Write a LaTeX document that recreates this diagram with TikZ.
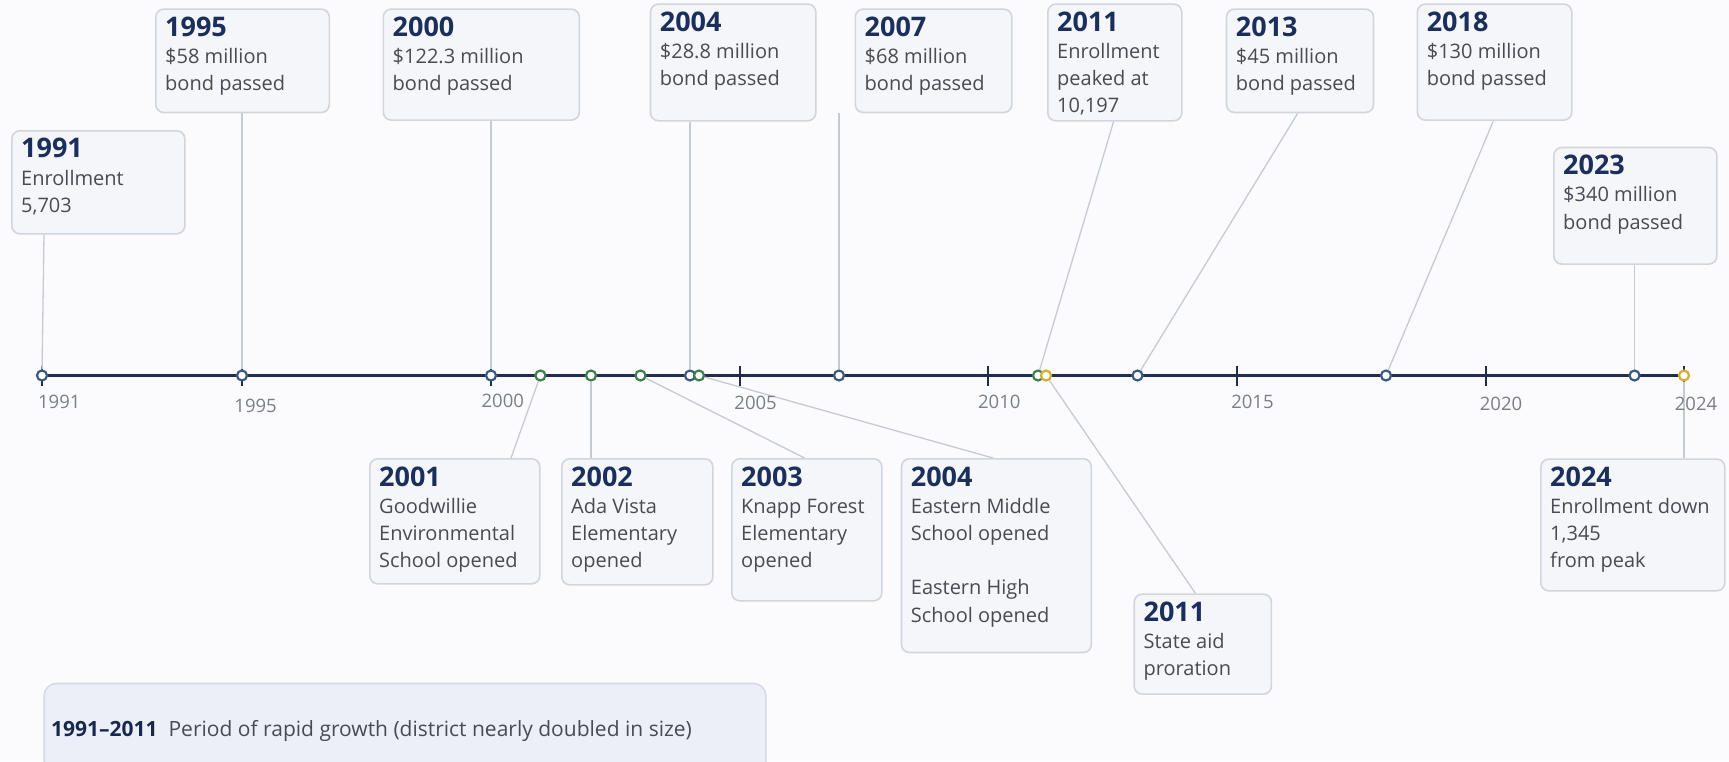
\documentclass[tikz,border=0pt]{standalone}
\usepackage{fontspec}
\setmainfont{Open Sans}
\usetikzlibrary{calc}
\pgfdeclarelayer{back}
\pgfdeclarelayer{under}
\pgfsetlayers{back,under,main}
\definecolor{pagebg}{HTML}{FBFBFD}
\definecolor{navy}{HTML}{1B2F5C}
\definecolor{bodygray}{HTML}{474B53}
\definecolor{boxfill}{HTML}{F5F6F9}
\definecolor{boxline}{HTML}{D2D5DC}
\definecolor{axiscol}{HTML}{1F2E4D}
\definecolor{dotblue}{HTML}{3A5A82}
\definecolor{dotgreen}{HTML}{3F7F4E}
\definecolor{dotgold}{HTML}{D6AE35}
\definecolor{conncol}{HTML}{C6CAD2}
\definecolor{ticklbl}{HTML}{7A7E86}
\definecolor{legfill}{HTML}{ECEFF7}
\definecolor{legline}{HTML}{D6DAE4}
\tikzset{
  evbox/.style={draw=boxline, fill=boxfill, line width=1.6pt, rounded corners=8pt, inner sep=0pt, anchor=north west},
  legbox/.style={draw=legline, fill=legfill, line width=1.6pt, rounded corners=12pt, inner sep=0pt, anchor=north west},
  evtitle/.style={anchor=base west, inner sep=0pt, text=navy, font=\fontsize{27}{30}\selectfont\bfseries},
  evbody/.style={anchor=base west, inner sep=0pt, text=bodygray, font=\fontsize{20}{27.3}\selectfont},
  yrlabel/.style={anchor=base, inner sep=0pt, text=ticklbl, font=\fontsize{18.5}{22}\selectfont},
  evdot/.style={circle, minimum size=10pt, inner sep=0pt, fill=white, line width=2.2pt},
  bluedot/.style={evdot, draw=dotblue},
  greendot/.style={evdot, draw=dotgreen},
  golddot/.style={evdot, draw=dotgold},
  connector/.style={draw=conncol, line width=1.3pt},
  axisline/.style={draw=axiscol, line width=3.6pt},
  tickmark/.style={draw=axiscol, line width=2pt}
}
\newcommand{\evlines}[1]{\parbox[t]{300pt}{\raggedright #1}}
\begin{document}
\begin{tikzpicture}[x=1pt,y=-1pt]
\useasboundingbox (0,0) rectangle (1729,761);
\begin{pgfonlayer}{back}
  \fill[pagebg] (0,0) rectangle (1729,761);
\end{pgfonlayer}

% ---------- dots on the timeline ----------
\def\ty{375.5}
\node[bluedot]  (p1991)  at (42,\ty) {};
\node[bluedot]  (p1995)  at (242,\ty) {};
\node[bluedot]  (p2000)  at (491,\ty) {};
\node[greendot] (p2001)  at (540.4,\ty) {};
\node[greendot] (p2002)  at (591,\ty) {};
\node[greendot] (p2003)  at (640.5,\ty) {};
\node[bluedot]  (p2004a) at (690,\ty) {};
\node[greendot] (p2004b) at (699,\ty) {};
\node[bluedot]  (p2007)  at (839,\ty) {};
\node[greendot] (p2011a) at (1038,\ty) {};
\node[golddot]  (p2011b) at (1046,\ty) {};
\node[bluedot]  (p2013)  at (1137.5,\ty) {};
\node[bluedot]  (p2018)  at (1386,\ty) {};
\node[bluedot]  (p2023)  at (1634.5,\ty) {};
\node[golddot]  (p2024)  at (1684,\ty) {};

% ---------- year labels ----------
\node[yrlabel] (l1991) at (59.3,408.3) {1991};
\node[yrlabel] (l1995) at (255.6,412.7) {1995};
\node[yrlabel] (l2000) at (502.8,407.8) {2000};
\node[yrlabel] (l2005) at (755.6,409) {2005};
\node[yrlabel] (l2010) at (999.3,408.3) {2010};
\node[yrlabel] (l2015) at (1252.4,408.3) {2015};
\node[yrlabel] (l2020) at (1501,410.7) {2020};
\node[yrlabel] (l2024) at (1696,410.7) {2024};

% ---------- boxes above ----------
\node[evbox, minimum width=173pt, minimum height=103pt] (b1991) at (11,130) {};
\node[evtitle] (t1991) at ($(b1991.north west)+(10,27)$) {1991};
\node[evbody]  (x1991) at ($(b1991.north west)+(10,55)$) {\evlines{Enrollment\\5,703}};

\node[evbox, minimum width=173.5pt, minimum height=103.4pt] (b1995) at (155,8.3) {};
\node[evtitle] (t1995) at ($(b1995.north west)+(10,28)$) {1995};
\node[evbody]  (x1995) at ($(b1995.north west)+(10,55)$) {\evlines{\$58 million\\bond passed}};

\node[evbox, minimum width=196pt, minimum height=111pt] (b2000) at (382.5,8.3) {};
\node[evtitle] (t2000) at ($(b2000.north west)+(10,28)$) {2000};
\node[evbody]  (x2000) at ($(b2000.north west)+(10,55)$) {\evlines{\$122.3 million\\bond passed}};

\node[evbox, minimum width=165.3pt, minimum height=116.7pt] (b2004t) at (649.7,3.3) {};
\node[evtitle] (t2004t) at ($(b2004t.north west)+(10,28)$) {2004};
\node[evbody]  (x2004t) at ($(b2004t.north west)+(10,55)$) {\evlines{\$28.8 million\\bond passed}};

\node[evbox, minimum width=156.5pt, minimum height=103.4pt] (b2007) at (854.5,8.3) {};
\node[evtitle] (t2007) at ($(b2007.north west)+(10,28)$) {2007};
\node[evbody]  (x2007) at ($(b2007.north west)+(10,55)$) {\evlines{\$68 million\\bond passed}};

\node[evbox, minimum width=134pt, minimum height=116.7pt] (b2011t) at (1047,3.3) {};
\node[evtitle] (t2011t) at ($(b2011t.north west)+(10,28)$) {2011};
\node[evbody]  (x2011t) at ($(b2011t.north west)+(10,55)$) {\evlines{Enrollment\\peaked at\\10,197}};

\node[evbox, minimum width=147pt, minimum height=103.4pt] (b2013) at (1225.7,8.3) {};
\node[evtitle] (t2013) at ($(b2013.north west)+(10,28)$) {2013};
\node[evbody]  (x2013) at ($(b2013.north west)+(10,55)$) {\evlines{\$45 million\\bond passed}};

\node[evbox, minimum width=154.4pt, minimum height=116pt] (b2018) at (1416.6,3.3) {};
\node[evtitle] (t2018) at ($(b2018.north west)+(10,28)$) {2018};
\node[evbody]  (x2018) at ($(b2018.north west)+(10,55)$) {\evlines{\$130 million\\bond passed}};

\node[evbox, minimum width=163pt, minimum height=116.6pt] (b2023) at (1553,146.7) {};
\node[evtitle] (t2023) at ($(b2023.north west)+(10,28)$) {2023};
\node[evbody]  (x2023) at ($(b2023.north west)+(10,55)$) {\evlines{\$340 million\\bond passed}};

% ---------- boxes below ----------
\node[evbox, minimum width=170pt, minimum height=125pt] (b2001) at (369,458) {};
\node[evtitle] (t2001) at ($(b2001.north west)+(10,28)$) {2001};
\node[evbody]  (x2001) at ($(b2001.north west)+(10,55)$) {\evlines{Goodwillie\\Environmental\\School opened}};

\node[evbox, minimum width=151pt, minimum height=126pt] (b2002) at (561,458) {};
\node[evtitle] (t2002) at ($(b2002.north west)+(10,28)$) {2002};
\node[evbody]  (x2002) at ($(b2002.north west)+(10,55)$) {\evlines{Ada Vista\\Elementary\\opened}};

\node[evbox, minimum width=150pt, minimum height=142pt] (b2003) at (731,458) {};
\node[evtitle] (t2003) at ($(b2003.north west)+(10,28)$) {2003};
\node[evbody]  (x2003) at ($(b2003.north west)+(10,55)$) {\evlines{Knapp Forest\\Elementary\\opened}};

\node[evbox, minimum width=189.8pt, minimum height=193.7pt] (b2004b) at (900.7,458) {};
\node[evtitle] (t2004b) at ($(b2004b.north west)+(10,28)$) {2004};
\node[evbody]  (x2004b) at ($(b2004b.north west)+(10,55)$) {\evlines{Eastern Middle\\School opened\\[27.3pt]Eastern High\\School opened}};

\node[evbox, minimum width=137.2pt, minimum height=100pt] (b2011b) at (1133.4,593.3) {};
\node[evtitle] (t2011b) at ($(b2011b.north west)+(10,28)$) {2011};
\node[evbody]  (x2011b) at ($(b2011b.north west)+(10,55)$) {\evlines{State aid\\proration}};

\node[evbox, minimum width=184pt, minimum height=131.7pt] (b2024) at (1540,458.3) {};
\node[evtitle] (t2024) at ($(b2024.north west)+(10,28)$) {2024};
\node[evbody]  (x2024) at ($(b2024.north west)+(10,55)$) {\evlines{Enrollment down\\1,345\\from peak}};

% ---------- legend ----------
\begin{scope}
  \clip (0,0) rectangle (1729,761);
  \node[legbox, minimum width=721.6pt, minimum height=100pt] (leg) at (43.4,682.7) {};
\end{scope}
\node[anchor=base west, inner sep=0pt, font=\fontsize{21}{25}\selectfont, text=bodygray] (legt) at (51,736)
  {\textcolor{navy!85!black}{\bfseries 1991–2011}\hspace{11pt}Period of rapid growth (district nearly doubled in size)};

% ---------- axis, ticks and connectors (under the dots) ----------
\begin{pgfonlayer}{under}
  \draw[axisline] (p1991.center) -- (p2024.center);
  \foreach \tx in {42,242,491,740,988.4,1237,1485.5,1684}
    \draw[tickmark] (\tx,365.5) -- (\tx,385.5);
  \draw[connector] ([xshift=33pt]b1991.south west) -- (p1991);
  \draw[connector] (b1995.south -| p1995) -- (p1995);
  \draw[connector] (b2000.south -| p2000) -- (p2000);
  \draw[connector] (b2004t.south -| p2004a) -- (p2004a);
  \draw[connector] (b2007.south -| p2007) -- (p2007);
  \draw[connector] ([xshift=66.6pt]b2011t.south west) -- (p2011a);
  \draw[connector] ([xshift=72pt]b2013.south west) -- (p2013);
  \draw[connector] ([xshift=76.8pt]b2018.south west) -- (p2018);
  \draw[connector] (b2023.south -| p2023) -- (p2023);
  \draw[connector] ([xshift=142pt]b2001.north west) -- (p2001);
  \draw[connector] (b2002.north -| p2002) -- (p2002);
  \draw[connector] ([xshift=73.5pt]b2003.north west) -- (p2003);
  \draw[connector] ([xshift=92.3pt]b2004b.north west) -- (p2004b);
  \draw[connector] ([xshift=62pt]b2011b.north west) -- (p2011b);
  \draw[connector] (b2024.north -| p2024) -- (p2024);
\end{pgfonlayer}
\end{tikzpicture}
\end{document}
